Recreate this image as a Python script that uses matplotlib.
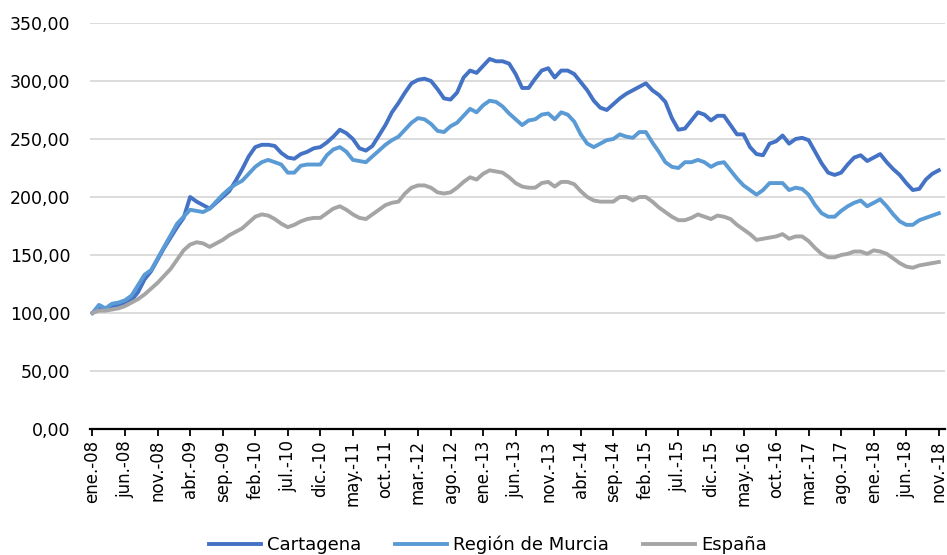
import numpy as np
import matplotlib
matplotlib.use("Agg")
import matplotlib.pyplot as plt

# Indice base 100 = ene-08, serie mensual ene-08 .. nov-18
meses = ["ene", "feb", "mar", "abr", "may", "jun", "jul", "ago", "sep", "oct", "nov", "dic"]
fechas = [f"{meses[k % 12]}.-{8 + k // 12:02d}" for k in range(131)]

cartagena = [100, 104, 103, 106, 107, 109, 111, 118, 129, 136,
             146, 156, 165, 174, 182, 200, 196, 193, 190, 195,
             200, 205, 214, 224, 235, 243, 245, 245, 244, 238,
             234, 233, 237, 239, 242, 243, 247, 252, 258, 255,
             250, 242, 240, 244, 253, 262, 273, 281, 290, 298,
             301, 302, 300, 293, 285, 284, 290, 303, 309, 307,
             313, 319, 317, 317, 315, 306, 294, 294, 302, 309,
             311, 303, 309, 309, 306, 299, 292, 283, 277, 275,
             280, 285, 289, 292, 295, 298, 292, 288, 282, 268,
             258, 259, 266, 273, 271, 266, 270, 270, 262, 254,
             254, 243, 237, 236, 246, 248, 253, 246, 250, 251,
             249, 239, 229, 221, 219, 221, 228, 234, 236, 231,
             234, 237, 230, 224, 219, 212, 206, 207, 215, 220,
             223]

murcia = [100, 107, 104, 108, 109, 111, 115, 124, 133, 137,
          147, 157, 167, 177, 183, 189, 188, 187, 190, 196,
          202, 207, 211, 214, 220, 226, 230, 232, 230, 228,
          221, 221, 227, 228, 228, 228, 236, 241, 243, 239,
          232, 231, 230, 235, 240, 245, 249, 252, 258, 264,
          268, 267, 263, 257, 256, 261, 264, 270, 276, 273,
          279, 283, 282, 278, 272, 267, 262, 266, 267, 271,
          272, 267, 273, 271, 265, 254, 246, 243, 246, 249,
          250, 254, 252, 251, 256, 256, 247, 239, 230, 226,
          225, 230, 230, 232, 230, 226, 229, 230, 223, 216,
          210, 206, 202, 206, 212, 212, 212, 206, 208, 207,
          202, 193, 186, 183, 183, 188, 192, 195, 197, 192,
          195, 198, 192, 185, 179, 176, 176, 180, 182, 184,
          186]

espana = [100, 102, 102, 103, 104, 106, 109, 112, 116, 121,
          126, 132, 138, 146, 154, 159, 161, 160, 157, 160,
          163, 167, 170, 173, 178, 183, 185, 184, 181, 177,
          174, 176, 179, 181, 182, 182, 186, 190, 192, 189,
          185, 182, 181, 185, 189, 193, 195, 196, 203, 208,
          210, 210, 208, 204, 203, 204, 208, 213, 217, 215,
          220, 223, 222, 221, 217, 212, 209, 208, 208, 212,
          213, 209, 213, 213, 211, 205, 200, 197, 196, 196,
          196, 200, 200, 197, 200, 200, 196, 191, 187, 183,
          180, 180, 182, 185, 183, 181, 184, 183, 181, 176,
          172, 168, 163, 164, 165, 166, 168, 164, 166, 166,
          162, 156, 151, 148, 148, 150, 151, 153, 153, 151,
          154, 153, 151, 147, 143, 140, 139, 141, 142, 143,
          144]

x = np.arange(len(fechas))

fig = plt.figure(figsize=(9.47, 5.55), dpi=100)
ax = fig.add_axes([90 / 947, 1 - 429 / 555, 855 / 947, 406 / 555])

ax.plot(x, cartagena, color="#4472C4", lw=2.8, label="Cartagena", solid_joinstyle="round")
ax.plot(x, murcia, color="#5B9BD5", lw=2.8, label="Región de Murcia", solid_joinstyle="round")
ax.plot(x, espana, color="#A5A5A5", lw=2.8, label="España", solid_joinstyle="round")

ax.set_xlim(-0.38, 130.95)
ax.set_ylim(0, 350)
yt = np.arange(0, 351, 50)
ax.set_yticks(yt)
ax.set_yticklabels([f"{v:.2f}".replace(".", ",") for v in yt], fontsize=12.5)
ax.yaxis.grid(True, color="#D9D9D9", lw=1.3)
ax.set_axisbelow(True)
ax.tick_params(axis="y", length=0, pad=14)

ax.set_xticks(x[::5])
ax.set_xticklabels(fechas[::5], rotation=90, fontsize=12)
ax.tick_params(axis="x", length=5, width=1.3, color="black", pad=3)

for s in ["left", "right", "top"]:
    ax.spines[s].set_visible(False)
ax.spines["bottom"].set_color("black")
ax.spines["bottom"].set_linewidth(1.6)

fig.legend(loc="center", bbox_to_anchor=(0.515, 0.018), ncol=3, frameon=False,
           fontsize=13, handlelength=2.9, handletextpad=0.3, columnspacing=1.9)

fig.savefig("out.png", dpi=100)
